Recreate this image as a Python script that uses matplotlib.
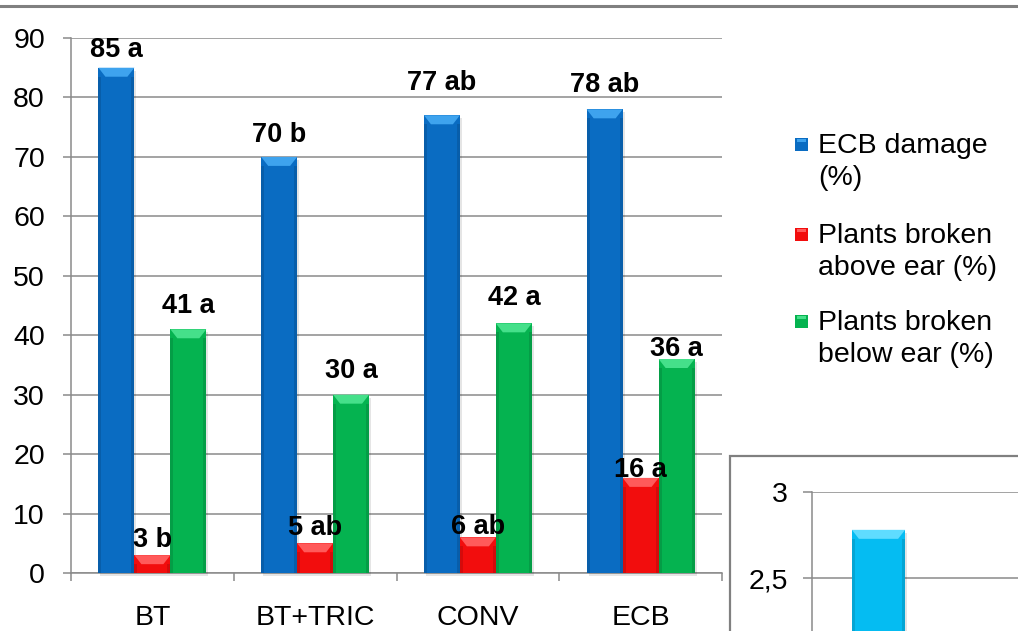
import numpy as np
import matplotlib
matplotlib.use("Agg")
import matplotlib.pyplot as plt
from matplotlib.patches import Polygon, Rectangle
from matplotlib.lines import Line2D
from matplotlib.ticker import FixedLocator, FuncFormatter

plt.rcParams["font.family"] = ["Liberation Sans", "DejaVu Sans"]

# treatments and measured percentages
CATEGORIES = ["BT", "BT+TRIC", "CONV", "ECB"]
SERIES = ["ECB damage\n(%)", "Plants broken\nabove ear (%)", "Plants broken\nbelow ear (%)"]
ECB_DAMAGE = [85, 70, 77, 78]
BROKEN_ABOVE = [3, 5, 6, 16]
BROKEN_BELOW = [41, 30, 42, 36]
LETTERS_DAMAGE = ["a", "b", "ab", "ab"]
LETTERS_ABOVE = ["b", "ab", "ab", "a"]
LETTERS_BELOW = ["a", "a", "a", "a"]
Y_TICKS = [0, 10, 20, 30, 40, 50, 60, 70, 80, 90]

# second (partly visible) chart
INSET_VALUES = [2.78]
INSET_TICKS = [2.5, 3]

COLORS = ["#0a6cc2", "#f20d0d", "#05b350"]
TOPS = ["#3ea3ee", "#ff5a5a", "#45e08a"]
INSET_COLOR = "#05bcf2"
INSET_TOP = "#5fdcff"
GRID = "#8a8a8a"
FS = 20.5

# label baseline gap above each bar top (pixels)
LABEL_GAPS = [[11, 15, 25, 17], [8, 8, 3, 1], [16, 17, 18, 3]]

W, H = 1018, 631


def fx(px):
    return px / W


def fy(py):
    return (H - py) / H


def bevel(ax, bars, top_color, px_per_x, px_per_y):
    # chamfered top strip and darker side edges on every bar
    for b in bars:
        x0, w, h = b.get_x(), b.get_width(), b.get_height()
        x1 = x0 + w
        dh = 9 / px_per_y
        dx = 7 / px_per_x
        if h < dh * 1.2:
            dh = h * 0.6
        ax.add_patch(Polygon([(x0, h), (x1, h), (x1 - dx, h - dh), (x0 + dx, h - dh)],
                             closed=True, facecolor=top_color, edgecolor="none",
                             zorder=3.1))
        sw = 3 / px_per_x
        ax.add_patch(Rectangle((x0, 0), sw, h - dh, facecolor="black", alpha=0.12,
                               edgecolor="none", zorder=3.1))
        ax.add_patch(Rectangle((x1 - sw, 0), sw, h - dh, facecolor="black", alpha=0.12,
                               edgecolor="none", zorder=3.1))
        # soft drop shadow
        ax.add_patch(Rectangle((x0 + 2 / px_per_x, -3 / px_per_y), w, h, facecolor="black",
                               alpha=0.10, edgecolor="none", zorder=2.9, clip_on=False))


fig = plt.figure(figsize=(W / 100, H / 100), dpi=100)

# top frame line
fig.add_artist(Line2D([0, 1], [fy(6), fy(6)], color="#808080", lw=2.2))

# --- main grouped bar chart ---
left, right, top, bottom = 71, 722, 38, 573
ax = fig.add_axes([fx(left), fy(bottom), fx(right - left), (bottom - top) / H])
x = np.arange(len(CATEGORIES))
width = 0.221
px_x = (right - left) / len(CATEGORIES)
px_y = (bottom - top) / 90

series_vals = [ECB_DAMAGE, BROKEN_ABOVE, BROKEN_BELOW]
series_letters = [LETTERS_DAMAGE, LETTERS_ABOVE, LETTERS_BELOW]
for i, vals in enumerate(series_vals):
    bars = ax.bar(x + (i - 1) * width, vals, width, color=COLORS[i], zorder=3,
                  label=SERIES[i])
    bevel(ax, bars, TOPS[i], px_x, px_y)
    for j, (b, v) in enumerate(zip(bars, vals)):
        ax.annotate(f"{v} {series_letters[i][j]}",
                    xy=(b.get_x() + b.get_width() / 2, v),
                    xytext=(0, LABEL_GAPS[i][j]), textcoords="offset pixels",
                    ha="center", va="baseline", fontsize=19.5, fontweight="bold",
                    zorder=5)

ax.set_xlim(-0.5, len(CATEGORIES) - 0.5)
ax.set_ylim(0, 90)
ax.set_yticks(Y_TICKS)
ax.set_xticks(x)
ax.set_xticklabels(CATEGORIES)
ax.xaxis.set_minor_locator(FixedLocator(np.arange(-0.5, len(CATEGORIES), 1.0)))
ax.tick_params(axis="x", which="major", length=0, pad=23, labelsize=FS)
ax.tick_params(axis="x", which="minor", length=5.5, width=1.1, color=GRID)
ax.tick_params(axis="y", length=5.8, width=1.1, color=GRID, pad=13, labelsize=FS)
ax.yaxis.grid(True, color=GRID, lw=1.1)
ax.set_axisbelow(True)
for s in ["top", "right"]:
    ax.spines[s].set_visible(False)
for s in ["left", "bottom"]:
    ax.spines[s].set_color(GRID)
    ax.spines[s].set_linewidth(1.1)

# legend drawn by hand so two-line labels sit like the original
leg_x = 795
leg_base = [153, 243, 330]
for i, lab in enumerate(SERIES):
    sq_top = leg_base[i] - 15
    fig.add_artist(Rectangle((fx(leg_x), fy(sq_top + 13)), 13 / W, 13 / H,
                             facecolor=COLORS[i], edgecolor="none"))
    fig.add_artist(Rectangle((fx(leg_x + 2), fy(sq_top + 4)), 9 / W, 3 / H,
                             facecolor=TOPS[i], edgecolor="none"))
    first, second = lab.split("\n")
    fig.text(fx(818), fy(leg_base[i]), first, fontsize=FS, va="baseline")
    fig.text(fx(818), fy(leg_base[i] + 32), second, fontsize=FS, va="baseline")

# --- second chart frame, cut off by the page edge ---
fig.add_artist(Rectangle((fx(730), fy(H + 40)), (W + 40 - 730) / W, (H + 40 - 456) / H,
                         facecolor="white", edgecolor="#808080", lw=1.6, zorder=1))

in_left, in_top = 812, 492
px_unit = 172            # pixels per 1.0 on the inset value axis
cat_px = 133
n_cat = 3
iax = fig.add_axes([fx(in_left), fy(in_top + 3 * px_unit), n_cat * cat_px / W,
                    3 * px_unit / H], zorder=2)
ibars = iax.bar([0], INSET_VALUES, 0.4, color=INSET_COLOR, zorder=3)
bevel(iax, ibars, INSET_TOP, cat_px, px_unit)
iax.set_xlim(-0.5, n_cat - 0.5)
iax.set_ylim(0, 3)
iax.set_yticks(INSET_TICKS)
iax.yaxis.set_major_formatter(FuncFormatter(lambda v, _: f"{v:g}".replace(".", ",")))
iax.set_xticks([])
iax.tick_params(axis="y", length=6.5, width=1.1, color=GRID, pad=11, labelsize=FS)
iax.yaxis.grid(True, color=GRID, lw=1.1)
iax.set_axisbelow(True)
iax.patch.set_alpha(0)
for s in ["top", "right", "bottom"]:
    iax.spines[s].set_visible(False)
iax.spines["left"].set_color(GRID)
iax.spines["left"].set_linewidth(1.1)

fig.savefig("out.png", dpi=100)
